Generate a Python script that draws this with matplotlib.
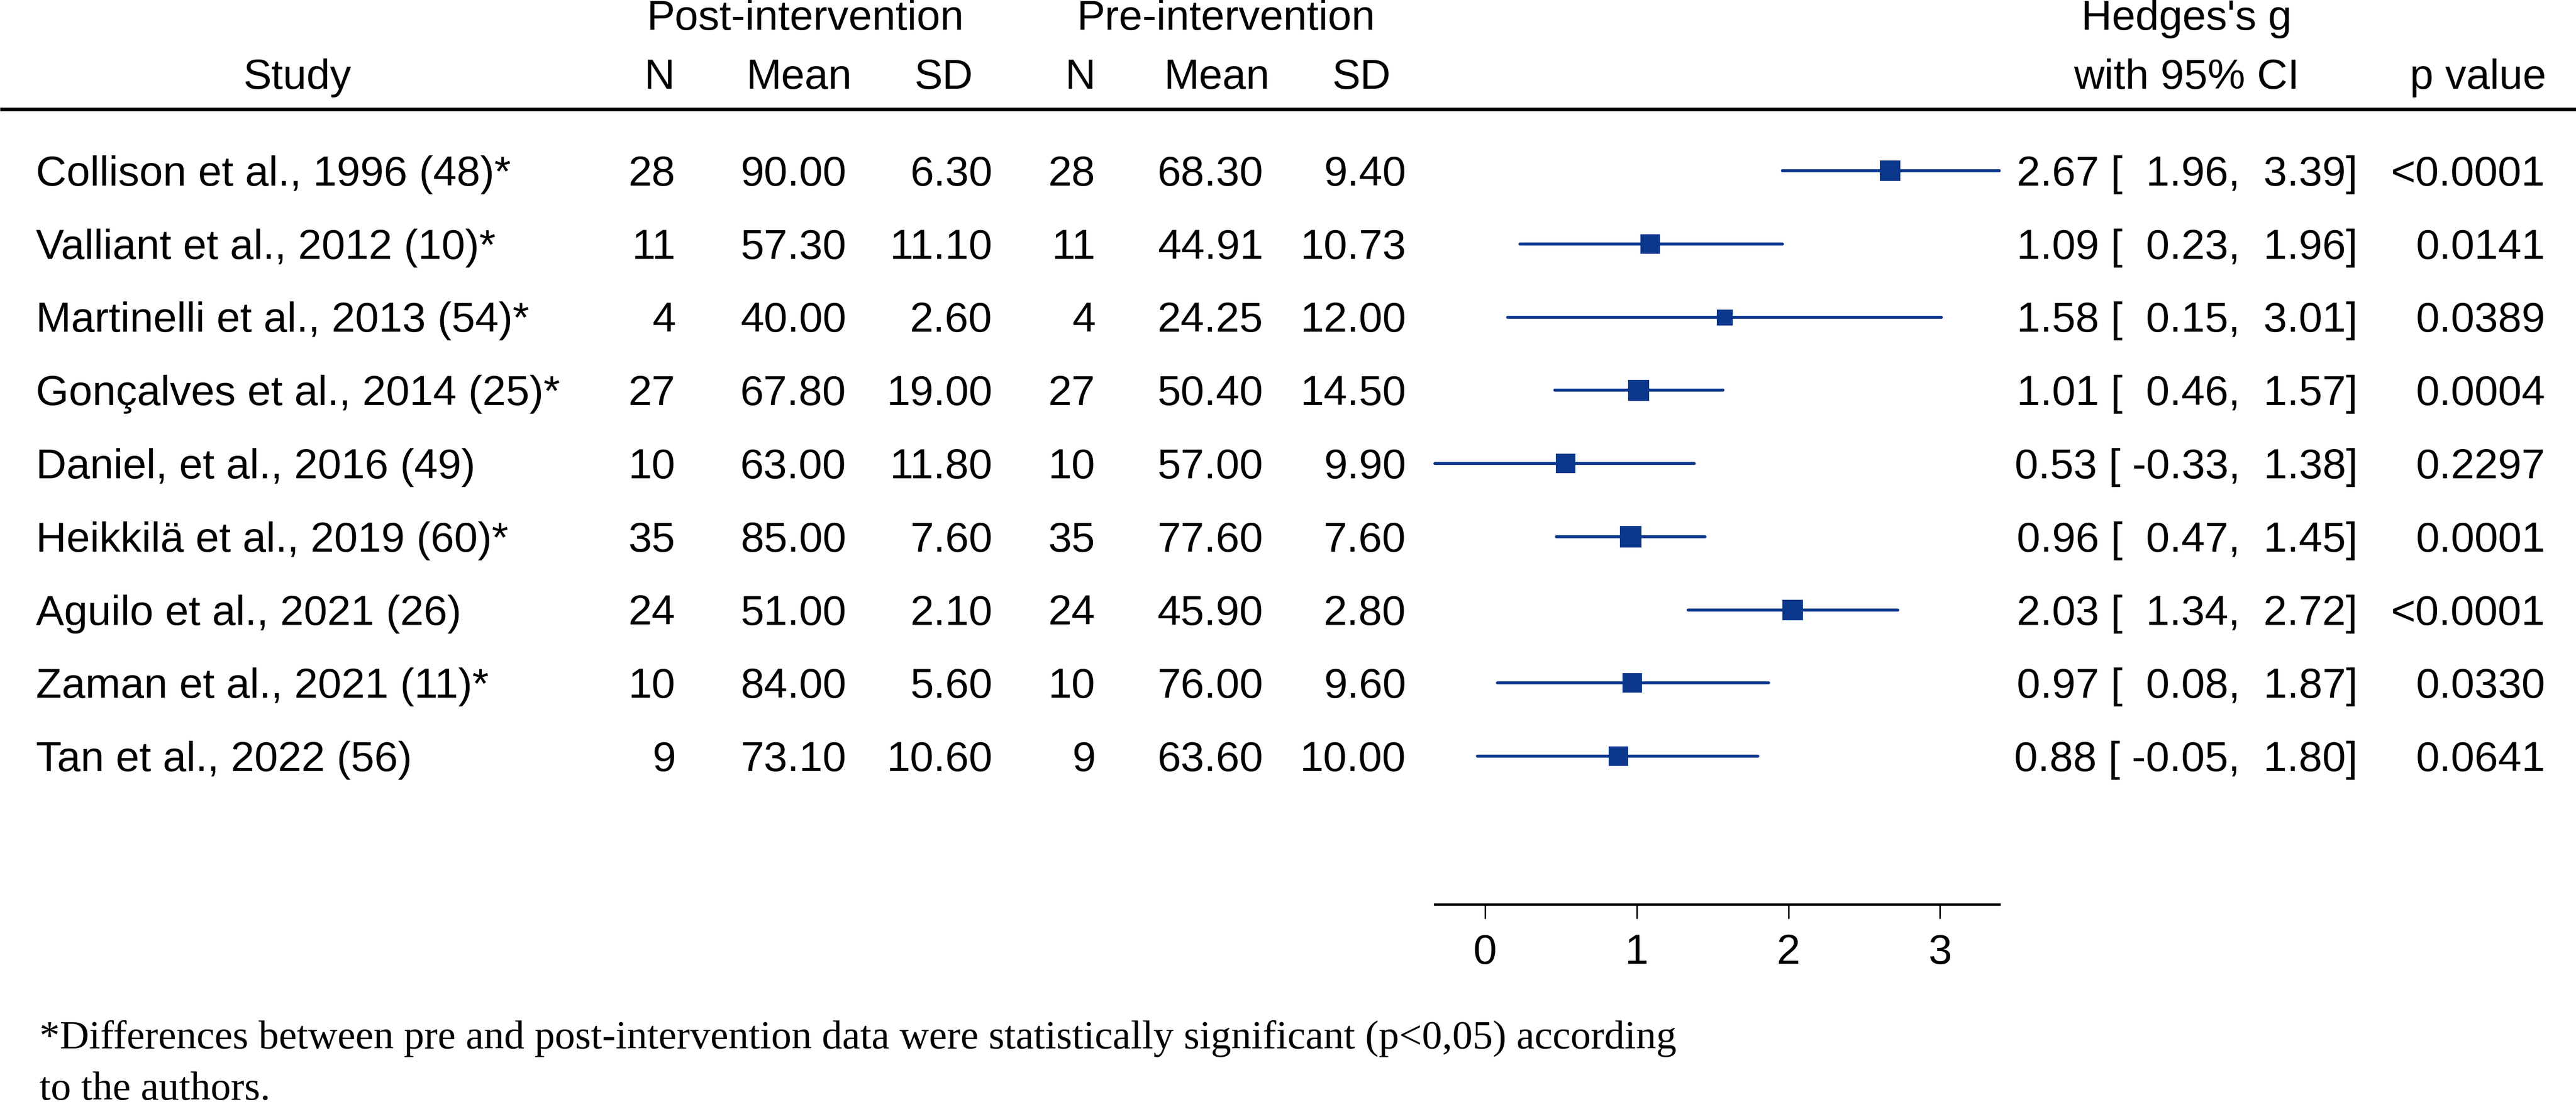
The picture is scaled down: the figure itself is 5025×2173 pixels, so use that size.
import matplotlib
matplotlib.use("Agg")
import matplotlib.pyplot as plt

# Study data
studies = ["Collison et al., 1996 (48)*", "Valliant et al., 2012 (10)*",
           "Martinelli et al., 2013 (54)*", "Gonçalves et al., 2014 (25)*",
           "Daniel, et al., 2016 (49)", "Heikkilä et al., 2019 (60)*",
           "Aguilo et al., 2021 (26)", "Zaman et al., 2021 (11)*",
           "Tan et al., 2022 (56)"]
post_n = [28, 11, 4, 27, 10, 35, 24, 10, 9]
post_mean = [90.00, 57.30, 40.00, 67.80, 63.00, 85.00, 51.00, 84.00, 73.10]
post_sd = [6.30, 11.10, 2.60, 19.00, 11.80, 7.60, 2.10, 5.60, 10.60]
pre_n = [28, 11, 4, 27, 10, 35, 24, 10, 9]
pre_mean = [68.30, 44.91, 24.25, 50.40, 57.00, 77.60, 45.90, 76.00, 63.60]
pre_sd = [9.40, 10.73, 12.00, 14.50, 9.90, 7.60, 2.80, 9.60, 10.00]
hedges_g = [2.67, 1.09, 1.58, 1.01, 0.53, 0.96, 2.03, 0.97, 0.88]
ci_low = [1.96, 0.23, 0.15, 0.46, -0.33, 0.47, 1.34, 0.08, -0.05]
ci_high = [3.39, 1.96, 3.01, 1.57, 1.38, 1.45, 2.72, 1.87, 1.80]
p_values = ["<0.0001", "0.0141", "0.0389", "0.0004", "0.2297",
            "0.0001", "<0.0001", "0.0330", "0.0641"]
x_ticks = [0, 1, 2, 3]
footnote = ["*Differences between pre and post-intervention data were statistically significant (p<0,05) according",
            "to the authors."]

# marker side (px) - square size in the original, roughly the study weight
marker_px = [40, 37, 31, 41, 37, 42, 40, 37, 37]

# Layout in pixels
W, H, DPI = 5025, 2173, 300
BLUE = "#0b378c"
FS = 19.8
sans = "Liberation Sans"
serif = "Liberation Serif"

row0 = 333.0      # y of first row
drow = 142.75     # row spacing
axis_y = 1764.0   # y of the x axis line
px0 = 2897.0      # x pixel of g = 0
ppu = 295.8       # pixels per unit of g

fig = plt.figure(figsize=(W / DPI, H / DPI), dpi=DPI)

# full-figure axes for the table text, pixel coordinates
ax_t = fig.add_axes([0, 0, 1, 1])
ax_t.set_xlim(0, W)
ax_t.set_ylim(H, 0)
ax_t.axis("off")

def txt(x, y, s, ha="center", **kw):
    ax_t.text(x, y, s, ha=ha, va="baseline", fontsize=FS, family=sans, **kw)

# headers
txt(1571, 58, "Post-intervention")
txt(2391, 58, "Pre-intervention")
txt(4265, 58, "Hedges's g")
txt(580, 173, "Study")
txt(1286, 173, "N")
txt(1558, 173, "Mean")
txt(1841, 173, "SD")
txt(2107, 173, "N")
txt(2373, 173, "Mean")
txt(2656, 173, "SD")
txt(4265, 173, "with 95% CI")
txt(4967, 173, "p value", ha="right")
ax_t.plot([0, W], [213, 213], color="black", lw=1.7, solid_capstyle="butt")

# table rows
for i in range(len(studies)):
    yb = row0 + i * drow + 29
    txt(70, yb, studies[i], ha="left")
    txt(1318, yb, f"{post_n[i]}", ha="right")
    txt(1651, yb, f"{post_mean[i]:.2f}", ha="right")
    txt(1936, yb, f"{post_sd[i]:.2f}", ha="right")
    txt(2137, yb, f"{pre_n[i]}", ha="right")
    txt(2464, yb, f"{pre_mean[i]:.2f}", ha="right")
    txt(2743, yb, f"{pre_sd[i]:.2f}", ha="right")
    txt(4599, yb, f"{hedges_g[i]:.2f} [ {ci_low[i]:5.2f}, {ci_high[i]:5.2f}]", ha="right")
    txt(4965, yb, p_values[i], ha="right")

# footnote
for k, line in enumerate(footnote):
    ax_t.text(77, 2045 + k * 100, line, ha="left", va="baseline",
              fontsize=19.0, family=serif)

# forest axes
x_lo, x_hi = min(ci_low), max(ci_high)
left_px = px0 + x_lo * ppu
right_px = px0 + x_hi * ppu
top_px = row0 - drow
ax_f = fig.add_axes([left_px / W, 1 - axis_y / H,
                     (right_px - left_px) / W, (axis_y - top_px) / H])
ax_f.set_xlim(x_lo, x_hi)
ax_f.set_ylim((axis_y - row0) / drow, -1)
ax_f.patch.set_alpha(0)
for s in ["top", "left", "right"]:
    ax_f.spines[s].set_visible(False)
ax_f.spines["bottom"].set_linewidth(1.1)
ax_f.set_yticks([])
ax_f.set_xticks(x_ticks)
ax_f.tick_params(axis="x", length=6.7, width=0.7, pad=7, labelsize=FS)
for lab in ax_f.get_xticklabels():
    lab.set_family(sans)

for i in range(len(studies)):
    ax_f.plot([ci_low[i], ci_high[i]], [i, i], color=BLUE, lw=1.4,
              solid_capstyle="round", clip_on=False)
    ax_f.plot(hedges_g[i], i, marker="s", color=BLUE, mew=0,
              markersize=marker_px[i] * 72 / DPI, clip_on=False)

fig.savefig("out.png", dpi=DPI)
